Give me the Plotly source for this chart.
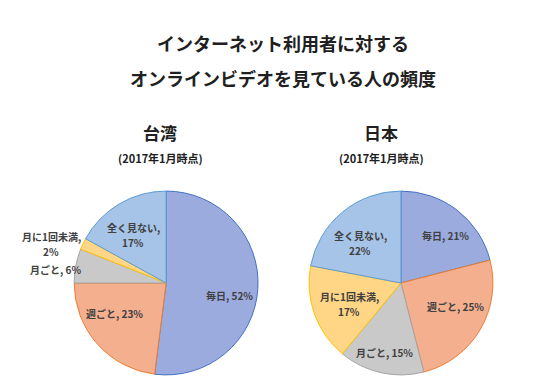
import plotly.graph_objects as go

categories = ["毎日", "週ごと", "月ごと", "月に1回未満", "全く見ない"]
taiwan_values = [52, 23, 6, 2, 17]
japan_values = [21, 25, 15, 17, 22]

title_lines = ["インターネット利用者に対する", "オンラインビデオを見ている人の頻度"]
panel_titles = ["台湾", "日本"]
panel_note = "(2017年1月時点)"

fill_colors = ["#9BABDD", "#F4AF8F", "#C9C9C9", "#FFD586", "#A6C4E7"]
line_colors = ["#4472C4", "#ED7D31", "#A5A5A5", "#FFC000", "#5B9BD5"]

# label layout (pixel positions of each data label, per pie): (x, y_first_line, two_lines)
tw_label_layout = [(221, 287, False), (106, 305, False), (47, 261, False),
                   (43, 228, True), (125, 219, True)]
jp_label_layout = [(437, 227, False), (447, 298, False), (376, 344, False),
                   (341, 288, True), (352, 227, True)]

FONT = "Noto Sans CJK JP"
LABEL_COLOR = "#404040"
W, H = 550, 392

fig = go.Figure()
for values, dom in [(taiwan_values, [0.12, 0.455]), (japan_values, [0.547, 0.882])]:
    fig.add_trace(go.Pie(
        labels=categories, values=values, textinfo="none",
        sort=False, direction="clockwise", rotation=0,
        marker=dict(colors=fill_colors, line=dict(color=line_colors, width=1)),
        domain=dict(x=dom, y=[0.064, 0.533]),
        showlegend=False, hoverinfo="label+percent",
    ))


def px(x, y):
    return x / W, 1 - y / H


ann = []
for i, line in enumerate(title_lines):
    x, y = px(W / 2, 35 + 35 * i)
    ann.append(dict(text=f"<b>{line}</b>", x=x, y=y,
                    font=dict(family=FONT, size=18, color="#202020")))
for name, cx in zip(panel_titles, [152, 373]):
    x, y = px(cx, 124)
    ann.append(dict(text=f"<b>{name}</b>", x=x, y=y,
                    font=dict(family=FONT, size=17, color="#202020")))
    x, y = px(cx, 150)
    ann.append(dict(text=f"<b>{panel_note}</b>", x=x, y=y,
                    font=dict(family=FONT, size=11, color="#202020")))

for values, layout in [(taiwan_values, tw_label_layout), (japan_values, jp_label_layout)]:
    for c, v, (lx, ly, two) in zip(categories, values, layout):
        lines = [f"{c},", f"{v}%"] if two else [f"{c}, {v}%"]
        for k, t in enumerate(lines):
            x, y = px(lx, ly + 15 * k)
            ann.append(dict(text=f"<b>{t}</b>", x=x, y=y,
                            font=dict(family=FONT, size=10, color=LABEL_COLOR)))

for a in ann:
    a.update(xref="paper", yref="paper", showarrow=False,
             xanchor="center", yanchor="middle")

fig.update_layout(
    width=W, height=H,
    margin=dict(l=0, r=0, t=0, b=0),
    paper_bgcolor="white", plot_bgcolor="white",
    annotations=ann,
    font=dict(family=FONT),
)

fig.write_html("out.html")
